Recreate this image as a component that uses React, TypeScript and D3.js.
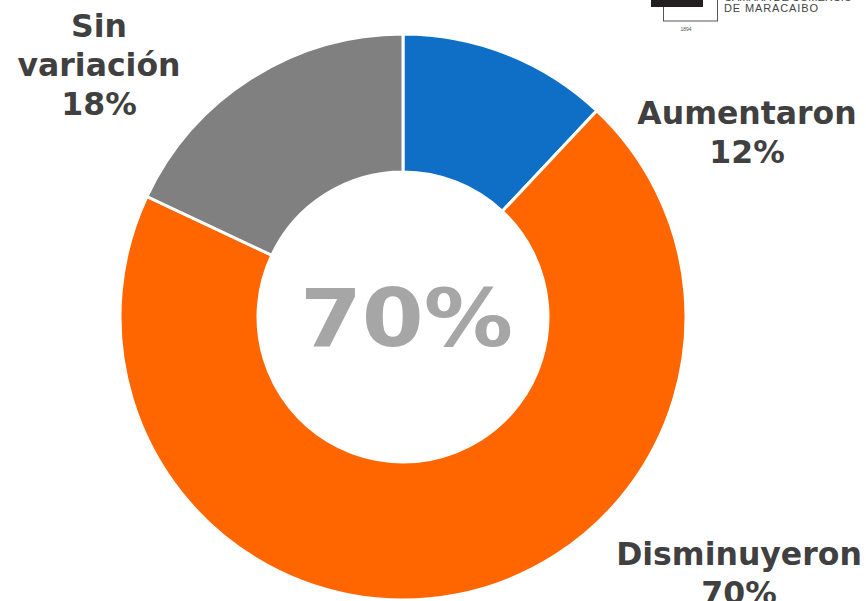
import * as d3 from 'd3'

const W = 866, H = 601

const categories = ['Aumentaron', 'Disminuyeron', 'Sin variación']
const values = [12, 70, 18]
const colors = ['#0F6FC6', '#FF6600', '#808080']
const centerLabel = '70%'

// label lines + anchor positions
const labelLines = [['Aumentaron', '12%'], ['Disminuyeron', '70%'], ['Sin', 'variación', '18%']]
const labelPos = [[747, 124], [739, 565], [99, 37]]

export default function App() {
  const cx = 403, cy = 317, rOuter = 283, rInner = 145

  const pie = d3.pie<number>().sort(null).value((d) => d)
  const arcs = pie(values)
  const arc = d3.arc<d3.PieArcDatum<number>>().innerRadius(rInner).outerRadius(rOuter)

  const font = '"DejaVu Sans", Verdana, sans-serif'

  return (
    <div style={{ position: 'absolute', left: 0, top: 0 }}>
      <svg width={W} height={H} viewBox={`0 0 ${W} ${H}`} style={{ display: 'block', background: '#fff' }}>
        <g transform={`translate(${cx},${cy})`}>
          {arcs.map((a, i) => (
            <path key={categories[i]} d={arc(a) || ''} fill={colors[i]} stroke="#fff" strokeWidth={3} strokeLinejoin="miter" />
          ))}
          {/* Verdana-like wide glyphs: stretch DejaVu a bit */}
          <g transform="translate(3.5,29) scale(1.1,1)">
            <text x={0} y={0} textAnchor="middle" fontFamily={font} fontWeight="bold" fontSize={81} fill="#A6A6A6">
              {centerLabel}
            </text>
          </g>
        </g>

        {labelLines.map((lines, i) => (
          <text key={i} x={labelPos[i][0]} y={labelPos[i][1]} textAnchor="middle" fontFamily={font} fontWeight="bold" fontSize={31.5} fill="#404040">
            {lines.map((t, j) => (
              <tspan key={j} x={labelPos[i][0]} dy={j === 0 ? 0 : 39}>{t}</tspan>
            ))}
          </text>
        ))}

        {/* logo, cut off at the top edge */}
        <g>
          <rect x={663.5} y={-2} width={54} height={23} fill="none" stroke="#555" strokeWidth={1} />
          <rect x={651} y={-2} width={52} height={9} fill="#231F20" />
          <text x={686} y={31} textAnchor="middle" fontFamily="Liberation Sans, sans-serif" fontSize={5} fill="#555">1894</text>
          <text x={724} y={1} fontFamily="Liberation Sans, sans-serif" fontSize={11} fill="#444">CÁMARA DE COMERCIO</text>
          <text x={724} y={12} fontFamily="Liberation Sans, sans-serif" fontSize={11} fill="#444" textLength={94}>DE MARACAIBO</text>
        </g>
      </svg>
    </div>
  )
}
